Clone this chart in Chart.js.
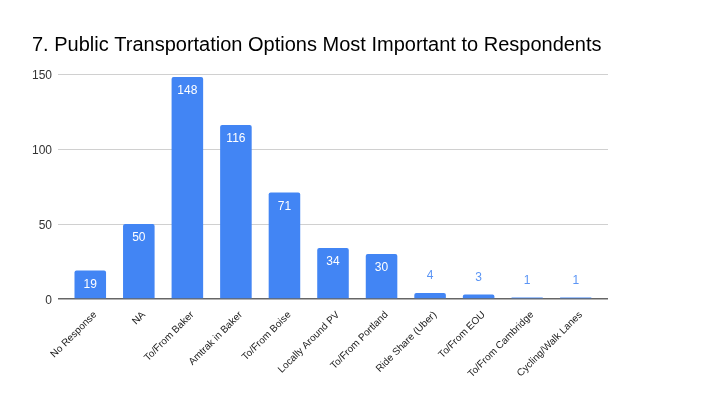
<!DOCTYPE html>
<html>
<head>
<meta charset="utf-8">
<script src="https://cdn.jsdelivr.net/npm/chart.js@4"></script>
<style>
  html, body { margin: 0; padding: 0; background: #fff; }
  #wrap { width: 720px; height: 405px; }
</style>
</head>
<body>
<div id="wrap"><canvas id="myChart" width="720" height="405"></canvas></div>
<script>
/* chart data */
var categories = ['No Response', 'NA', 'To/From Baker', 'Amtrak in Baker', 'To/From Boise',
  'Locally Around PV', 'To/From Portland', 'Ride Share (Uber)', 'To/From EOU',
  'To/From Cambridge', 'Cycling/Walk Lanes'];
var responses = [19, 50, 148, 116, 71, 34, 30, 4, 3, 1, 1];
var yTicks = [0, 50, 100, 150];

var BLUE = '#4285F4';
var FONT = '"Liberation Sans", Arial, sans-serif';

/* draws the value on each bar: white inside tall bars, blue above short ones */
var barLabels = {
  id: 'barLabels',
  afterDatasetsDraw: function(chart) {
    var ctx = chart.ctx;
    var meta = chart.getDatasetMeta(0);
    ctx.save();
    ctx.font = '12px ' + FONT;
    ctx.textAlign = 'center';
    ctx.textBaseline = 'middle';
    meta.data.forEach(function(bar, i) {
      var h = bar.base - bar.y;
      if (h > 25) {
        ctx.fillStyle = '#ffffff';
        ctx.fillText(String(responses[i]), bar.x, bar.y + 14);
      } else {
        ctx.fillStyle = '#5b95f5';
        ctx.fillText(String(responses[i]), bar.x, bar.y - 17);
      }
    });
    ctx.restore();
  }
};

/* grid colour: the zero line is the darker axis line */
function gridColor(c) {
  return c.tick && c.tick.value === 0 ? '#666' : '#d0d0d0';
}
function gridWidth(c) {
  return c.tick && c.tick.value === 0 ? 1.5 : 1;
}
function fixTicks(scale) {
  scale.ticks = yTicks.map(function(v) { return { value: v }; });
}

var config = {
  type: 'bar',
  data: {
    labels: categories,
    datasets: [{
      label: 'Responses',
      data: responses,
      backgroundColor: BLUE,
      borderRadius: { topLeft: 2, topRight: 2 },
      borderSkipped: 'bottom',
      categoryPercentage: 1,
      barPercentage: 0.65
    }]
  },
  options: {
    responsive: false,
    animation: false,
    layout: { padding: { left: 32, right: 112, top: 0, bottom: 0 } },
    plugins: {
      legend: { display: false },
      tooltip: { enabled: false },
      title: {
        display: true,
        text: '7. Public Transportation Options Most Important to Respondents',
        align: 'start',
        color: '#000',
        font: { family: FONT, size: 20, weight: 'normal' },
        padding: { top: 33, bottom: 17 }
      }
    },
    scales: {
      x: {
        grid: { display: false },
        border: { display: false },
        ticks: {
          autoSkip: false,
          minRotation: 45,
          maxRotation: 45,
          color: '#222',
          padding: 2,
          labelOffset: 5,
          font: { family: FONT, size: 10 }
        },
        afterFit: function(scale) { scale.height = 106; }
      },
      y: {
        min: 0,
        max: 150,
        grid: { color: gridColor, lineWidth: gridWidth, drawTicks: true, tickLength: 8 },
        border: { display: false },
        afterBuildTicks: fixTicks,
        ticks: {
          color: '#333',
          padding: 6,
          labelOffset: 2,
          font: { family: FONT, size: 12 }
        },
        afterFit: function(scale) { scale.width = 34; }
      },
      yRight: {
        type: 'linear',
        position: 'right',
        min: 0,
        max: 150,
        grid: { color: gridColor, lineWidth: gridWidth, drawOnChartArea: false, drawTicks: true, tickLength: 8 },
        border: { display: false },
        afterBuildTicks: fixTicks,
        ticks: { display: false },
        afterFit: function(scale) { scale.width = 8; }
      }
    }
  },
  plugins: [barLabels]
};

window.onload = function() {
  var ctx = document.getElementById('myChart').getContext('2d');
  window.barChart = new Chart(ctx, config);
};
</script>
</body>
</html>
